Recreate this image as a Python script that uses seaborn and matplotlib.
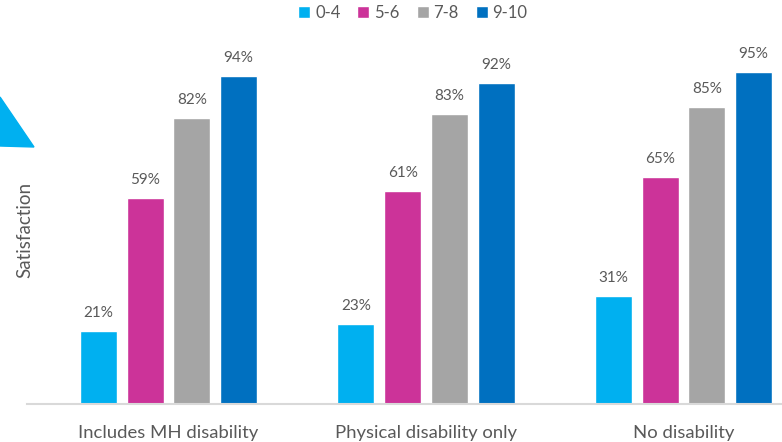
import matplotlib
matplotlib.use("Agg")
import matplotlib.pyplot as plt
import seaborn as sns
import pandas as pd
from matplotlib.patches import Polygon

categories = ["Includes MH disability", "Physical disability only", "No disability"]
groups = ["0-4", "5-6", "7-8", "9-10"]
values_04 = [21, 23, 31]
values_56 = [59, 61, 65]
values_78 = [82, 83, 85]
values_910 = [94, 92, 95]
colors = ["#00B0F0", "#CC3399", "#A5A5A5", "#0070C0"]

rows = []
for g, vals in zip(groups, [values_04, values_56, values_78, values_910]):
    for c, v in zip(categories, vals):
        rows.append({"category": c, "group": g, "value": v})
df = pd.DataFrame(rows)

sns.set_theme(style="white")
plt.rcParams['font.family'] = ['Lato', 'DejaVu Sans']
txt = "#595959"

fig = plt.figure(figsize=(7.82, 4.42), dpi=100)
ax = fig.add_axes([27/782, 38/442, (782-27)/782, 349/442])

sns.barplot(data=df, x="category", y="value", hue="group", order=categories,
            hue_order=groups, palette=colors, width=0.726, gap=0.21,
            saturation=1, ax=ax, legend=True)

for cont in ax.containers:
    ax.bar_label(cont, fmt="%.0f%%", padding=8, color=txt, fontsize=11)

ax.set_xlim(-0.55, 2.383)
ax.set_ylim(0, 100)
ax.set_yticks([])
ax.set_xlabel("")
ax.set_ylabel("Satisfaction", color=txt, fontsize=13.5)
ax.yaxis.set_label_coords(0.008, 0.5)
ax.tick_params(axis="x", length=0, pad=15, labelsize=13.3, labelcolor=txt)
for s in ["top", "right", "left"]:
    ax.spines[s].set_visible(False)
ax.spines["bottom"].set_color("#D9D9D9")
ax.spines["bottom"].set_linewidth(1.5)

handles, labels = ax.get_legend_handles_labels()
ax.get_legend().remove()
fig.legend(handles, labels, loc="center", bbox_to_anchor=(413/782, 1 - 13/442),
           ncol=4, frameon=False, fontsize=12, handlelength=0.72,
           handleheight=0.72, handletextpad=0.3, columnspacing=1.0,
           labelcolor=txt)

# decorative corner triangle
tri = Polygon([[0, 1 - 97/442], [34/782, 1 - 147/442], [0, 1 - 146/442]],
              closed=True, transform=fig.transFigure, color="#00B0F0", zorder=0)
fig.patches.append(tri)

fig.savefig("out.png", dpi=100)
